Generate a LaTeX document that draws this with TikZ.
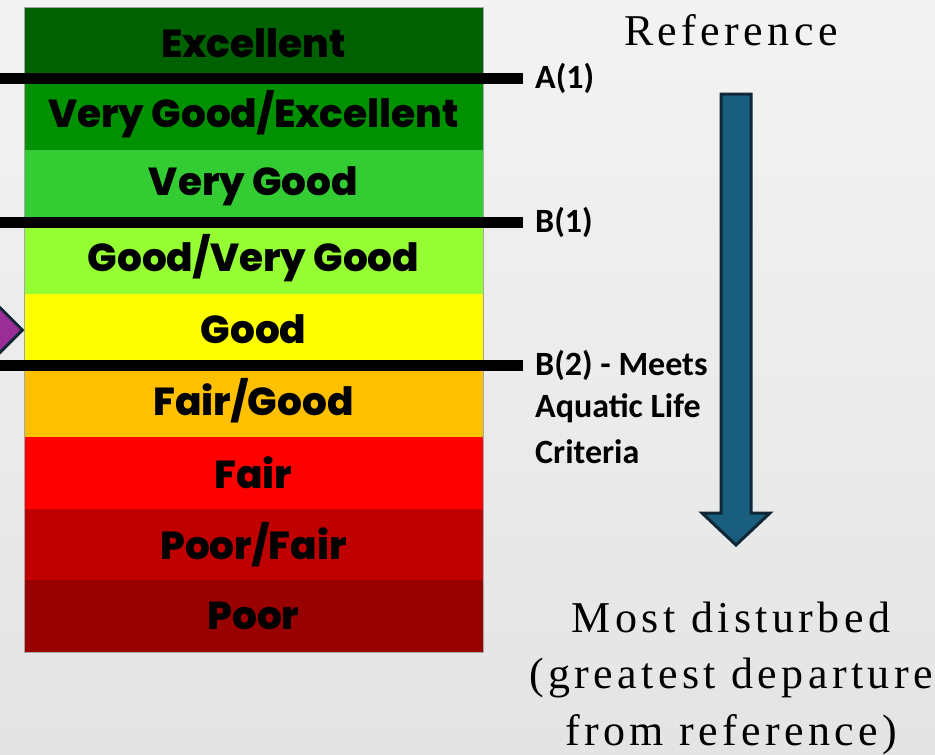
\documentclass[tikz,border=0pt]{standalone}
\usepackage{fontspec}
\setmainfont{Liberation Serif}
\IfFontExistsTF{Poppins ExtraBold}
	{\newfontfamily\bandfontbase{Poppins ExtraBold}\newcommand\bandfont{\bandfontbase}}
	{\newfontfamily\bandfontbase{Poppins}\newcommand\bandfont{\bandfontbase\bfseries}}
\newfontfamily\tagfont{Carlito}
\usetikzlibrary{shapes.geometric,positioning}

\definecolor{bgtop}{RGB}{243,243,243}
\definecolor{bgbot}{RGB}{228,228,228}
\definecolor{q1}{RGB}{0,97,0}
\definecolor{q2}{RGB}{0,145,0}
\definecolor{q3}{RGB}{51,204,51}
\definecolor{q4}{RGB}{150,255,51}
\definecolor{q5}{RGB}{255,255,0}
\definecolor{q6}{RGB}{255,192,0}
\definecolor{q7}{RGB}{255,0,0}
\definecolor{q8}{RGB}{192,0,0}
\definecolor{q9}{RGB}{153,0,0}
\definecolor{arrowblue}{RGB}{26,94,127}
\definecolor{darkedge}{RGB}{16,40,54}
\definecolor{markpurple}{RGB}{155,45,150}

\tikzset{
	band/.style={minimum width=459, minimum height=71.67, inner sep=0, outer sep=0,
		font=\bandfont\fontsize{39}{39}\selectfont},
	levelline/.style={line width=11, black},
	tag/.style={anchor=west, inner xsep=12, inner ysep=0,
		font=\tagfont\bfseries\fontsize{34}{44}\selectfont},
	spaced/.style={align=center, inner sep=0,
		font=\fontsize{44}{56.5}\selectfont\addfontfeature{LetterSpace=10}}
}

\begin{document}
\begin{tikzpicture}[x=1pt,y=-1pt]
	
	\useasboundingbox (0,0) rectangle (935,755);
	\fill[top color=bgtop, bottom color=bgbot] (0,0) rectangle (935,755);
	
	% condition classes, best at the top
	\def\h{71.67}
	\foreach \t [count=\i] in {Excellent,Very Good/Excellent,Very Good,Good/Very Good,Good,Fair/Good,Fair,Poor/Fair,Poor}
	{
		\node[band, fill=q\i] (band\i) at (253.5,{7+\h*(\i-0.5)}) {\t};
	}
	\draw[gray!70, line width=0.8] (band1.north west) rectangle (band9.south east);
	
	% marker on the left
	\node[diamond, draw=darkedge, fill=markpurple, line width=3, minimum width=46, minimum height=46, inner sep=0] (marker) at (0,330) {};
	
	% tiers
	\coordinate (a1 start) at (0,78.7);
	\coordinate (b1 start) at (0,222);
	\coordinate (b2 start) at (0,365.3);
	\node[tag] (a1) at (523,78.7) {A(1)};
	\node[tag] (b1) at (523,222) {B(1)};
	\node[tag] (b2) at (523,365.3) {B(2) - Meets};
	\node[tag] (b2 line2) at (523,408) {Aquatic Life};
	\node[tag] (b2 line3) at (523,452) {Criteria};
	\draw[levelline] (a1 start) -- (a1.west);
	\draw[levelline] (b1 start) -- (b1.west);
	\draw[levelline] (b2 start) -- (b2.west);
	
	% gradient arrow
	\node[spaced] (top text) at (731,30) {Reference};
	\node[spaced] (bottom text) at (731,678) {Most disturbed\\(greatest departure\\from reference)};
	\draw[fill=arrowblue, draw=darkedge, line width=3, line join=miter]
		(721,94)--(751,94)--(751,513)--(770,513)--(736,545)--(702,513)--(721,513)--cycle;
	
\end{tikzpicture}
\end{document}
